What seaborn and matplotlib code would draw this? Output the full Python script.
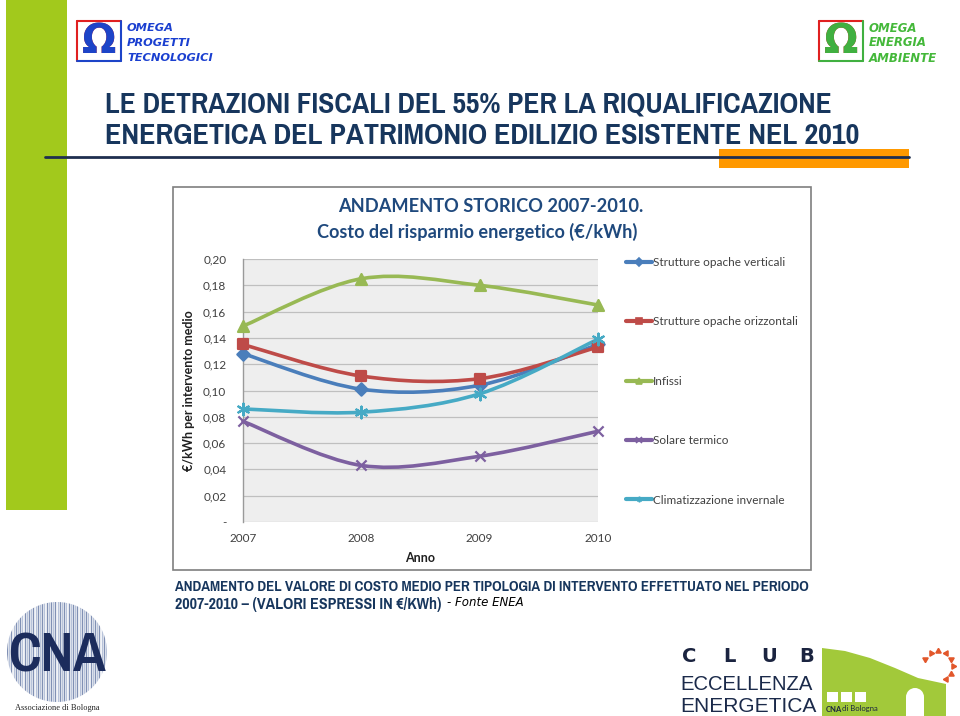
import numpy as np
import matplotlib
matplotlib.use('Agg')
import matplotlib.pyplot as plt
from matplotlib import font_manager as fm
from matplotlib.path import Path
from matplotlib.patches import PathPatch, Rectangle, Circle, Polygon
from matplotlib.lines import Line2D
from matplotlib.transforms import Bbox, TransformedBbox
import seaborn as sns

sns.set_theme(style='white')
plt.rcParams['font.family'] = ['Lato', 'DejaVu Sans']

# data
years = ['2007', '2008', '2009', '2010']
series_names = ['Strutture opache verticali', 'Strutture opache orizzontali', 'Infissi',
                'Solare termico', 'Climatizzazione invernale']
verticali = [0.128, 0.101, 0.104, 0.135]
orizzontali = [0.135, 0.111, 0.109, 0.133]
infissi = [0.149, 0.185, 0.180, 0.165]
solare = [0.0765, 0.043, 0.050, 0.069]
climatizzazione = [0.086, 0.0835, 0.0975, 0.139]
yticks = [0, 0.02, 0.04, 0.06, 0.08, 0.10, 0.12, 0.14, 0.16, 0.18, 0.20]
ytick_labels = ['-', '0,02', '0,04', '0,06', '0,08', '0,10', '0,12', '0,14', '0,16', '0,18', '0,20']

colors = ['#4a7ebb', '#be4b48', '#98b954', '#7d60a0', '#46aac5']
markers = ['D', 's', '^', 'x', (6, 2, 0)]
msizes = [6, 7, 7.5, 7, 8]

NAVY = '#17365d'


def find_narrow(bold=True):
    best = None
    for f in fm.fontManager.ttflist:
        w = f.weight if isinstance(f.weight, int) else fm.weight_dict.get(f.weight, 400)
        if (w >= 600) != bold or 'italic' in str(f.style) or 'oblique' in str(f.style):
            continue
        if 'Narrow' in f.name or 'Condensed' in f.name or 'condensed' in str(f.stretch):
            if best is None or 'Narrow' in f.name:
                best = f.fname
    return best


narrow_file = find_narrow()


def narrow_props():
    if narrow_file:
        return dict(fontproperties=fm.FontProperties(fname=narrow_file))
    return dict(family='DejaVu Sans', fontweight='bold')


def smooth_path(xs, ys):
    pts = np.column_stack([xs, ys]).astype(float)
    n = len(pts)
    verts = [pts[0]]
    codes = [Path.MOVETO]
    for i in range(n - 1):
        p0 = pts[max(i - 1, 0)]
        p1 = pts[i]
        p2 = pts[i + 1]
        p3 = pts[min(i + 2, n - 1)]
        verts += [p1 + (p2 - p0) / 6, p2 - (p3 - p1) / 6, p2]
        codes += [Path.CURVE4] * 3
    return Path(verts, codes)


fig = plt.figure(figsize=(9.6, 7.16), dpi=100)
renderer = fig.canvas.get_renderer()


def fit(t, width):
    bb = t.get_window_extent(renderer)
    t.set_fontsize(t.get_fontsize() * width / bb.width)
    return t


# background layer in pixel coordinates
bg = fig.add_axes([0, 0, 1, 1], zorder=0)
bg.set_xlim(0, 960)
bg.set_ylim(716, 0)
bg.axis('off')

# left green bar
bg.add_patch(Rectangle((6, 0), 61, 510, color='#a2c91c', lw=0))


# omega logos
def omega_logo(x0, y0, c_left, c_right, words, text_color, width):
    bg.plot([x0, x0 + 44], [y0, y0], color=c_left, lw=1.5)
    bg.plot([x0, x0], [y0, y0 + 40], color=c_left, lw=1.5)
    bg.plot([x0, x0 + 44], [y0 + 40, y0 + 40], color=c_right, lw=1.5)
    bg.plot([x0 + 44, x0 + 44], [y0, y0 + 40], color=c_right, lw=1.5)
    for c, cx in zip([c_left, c_right], [x0, x0 + 22]):
        t = bg.text(x0 + 22, y0 + 21, 'Ω', color=c, fontsize=29, fontweight='bold',
                    ha='center', va='center', family='DejaVu Sans')
        t.set_clip_box(TransformedBbox(Bbox.from_extents(cx, y0 + 40, cx + 22, y0), bg.transData))
    texts = []
    for k, w in enumerate(words):
        texts.append(bg.text(x0 + 50, y0 + 7 + 15 * k, w, color=text_color, fontsize=9,
                             fontweight='bold', fontstyle='italic', va='center', ha='left',
                             family='DejaVu Sans'))
    fit(texts[-1], width)
    for t in texts[:-1]:
        t.set_fontsize(texts[-1].get_fontsize())


omega_logo(77, 21, '#e02020', '#1d44c8', ['OMEGA', 'PROGETTI', 'TECNOLOGICI'], '#1a3fd0', 86)
omega_logo(819, 21, '#e02020', '#40b040', ['OMEGA', 'ENERGIA', 'AMBIENTE'], '#44b83a', 68)

# slide title
fit(bg.text(105, 104, 'LE DETRAZIONI FISCALI DEL 55% PER LA RIQUALIFICAZIONE', color=NAVY,
            fontsize=20, ha='left', va='center', **narrow_props()), 725)
fit(bg.text(105, 135, 'ENERGETICA DEL PATRIMONIO EDILIZIO ESISTENTE NEL 2010', color=NAVY,
            fontsize=20, ha='left', va='center', **narrow_props()), 755)
bg.add_patch(Rectangle((719, 149), 190, 19, color='#ff9900', lw=0))
bg.plot([45, 909], [157, 157], color='#1f2f4f', lw=2)

# chart frame
bg.add_patch(Rectangle((173, 187), 638, 383, facecolor='white', edgecolor='#7f7f7f', lw=1.2))
fit(bg.text(338, 207, 'ANDAMENTO STORICO 2007-2010.', color='#1f497d', fontsize=13,
            fontweight='bold', ha='left', va='center'), 305)
fit(bg.text(317, 232, 'Costo del risparmio energetico (€/kWh)', color='#1f497d', fontsize=13,
            fontweight='bold', ha='left', va='center'), 319)

# caption
fit(bg.text(175, 587, 'ANDAMENTO DEL VALORE DI COSTO MEDIO PER TIPOLOGIA DI INTERVENTO EFFETTUATO NEL PERIODO',
            color=NAVY, fontsize=9.5, ha='left', va='center', **narrow_props()), 633)
fit(bg.text(175, 604, '2007-2010 – (VALORI ESPRESSI IN €/KWh)', color=NAVY, fontsize=9.5,
            ha='left', va='center', **narrow_props()), 266)
fit(bg.text(447, 602, '- Fonte ENEA', color='black', fontsize=8.5, fontstyle='italic',
            ha='left', va='center', family='DejaVu Sans'), 76)

# CNA logo
circ = Circle((57, 652), 50, transform=bg.transData, visible=False)
bg.add_patch(circ)
for k, xs in enumerate(np.arange(7, 108, 2.2)):
    ln = bg.plot([xs, xs], [600, 705], color=['#8090b4', '#b8c3da'][k % 2], lw=1.0)[0]
    ln.set_clip_path(circ)
fit(bg.text(8, 656, 'CNA', color='#1c2c5c', fontsize=31, ha='left',
            va='center', **narrow_props()), 98)
bg.text(57, 708, 'Associazione di Bologna', color='#222222', fontsize=6, ha='center',
        va='center', family='Liberation Serif')

# club logo
for letter, lx in zip('CLUB', [689, 729, 769, 807]):
    bg.text(lx, 656, letter, color='#1b2440', fontsize=14, fontweight='black', ha='center',
            va='center', family='DejaVu Sans')
fit(bg.text(680, 684, 'ECCELLENZA', color='#1b2a4a', fontsize=14.5, ha='left', va='center',
            family='Liberation Sans'), 132)
fit(bg.text(680, 707, 'ENERGETICA', color='#1b2a4a', fontsize=14.5, ha='left', va='center',
            family='Liberation Sans'), 136)
bg.add_patch(Polygon([(822, 716), (822, 648), (845, 651), (870, 658), (895, 668), (918, 678),
                      (946, 684), (946, 716)], closed=True, color='#a2c93a', lw=0))
for sx in [827, 841, 855]:
    bg.add_patch(Rectangle((sx, 692), 11, 10, color='white', lw=0))
bg.add_patch(Rectangle((906, 697), 18, 19, color='white', lw=0))
bg.add_patch(Circle((915, 697), 9, color='white', lw=0))
bg.text(826, 709, 'CNA', color='#1b2440', fontsize=5.5, fontweight='bold', va='center')
bg.text(842, 709, 'di Bologna', color='#1b2440', fontsize=5.5, va='center')
for ang in np.linspace(150, -60, 8):
    a = np.deg2rad(ang)
    bg.plot(938 + 15 * np.cos(a), 666 - 15 * np.sin(a), marker=(3, 0, ang - 90), ms=4.5,
            color='#e2572b', lw=0)

# chart
ax = fig.add_axes([243 / 960, 1 - 522 / 716, 355 / 960, 263 / 716], zorder=2)
ax.set_facecolor('#eeeeee')
xpos = np.arange(len(years))
all_series = [verticali, orizzontali, infissi, solare, climatizzazione]
for vals, c, m, ms, name in zip(all_series, colors, markers, msizes, series_names):
    ax.add_patch(PathPatch(smooth_path(xpos, vals), facecolor='none', edgecolor=c, lw=2.6,
                           capstyle='round', clip_on=False, zorder=3))
    sns.scatterplot(x=xpos, y=vals, ax=ax, marker=m, color=c, s=ms ** 2 * 1.1,
                    edgecolor=c, linewidth=1.6, clip_on=False, zorder=4, legend=False)

ax.set_xlim(0, 3)
ax.set_ylim(0, 0.2)
ax.set_yticks(yticks)
ax.set_yticklabels(ytick_labels)
ax.set_xticks(xpos)
ax.set_xticklabels(years)
ax.tick_params(axis='both', length=0, labelsize=8.5, labelcolor='#404040')
ax.tick_params(axis='y', pad=12)
ax.tick_params(axis='x', pad=8)
ax.grid(axis='y', color='#bfbfbf', lw=0.9)
ax.set_axisbelow(True)
for s in ['top', 'right', 'bottom']:
    ax.spines[s].set_visible(False)
ax.spines['left'].set_color('#9a9a9a')
ax.spines['left'].set_linewidth(1)
ax.set_xlabel('Anno', fontsize=9, fontweight='bold', color='#202020')
ax.xaxis.set_label_coords(0.5, -0.115)
ax.set_ylabel('€/kWh per intervento medio', fontsize=9, fontweight='bold', color='#202020')
ax.yaxis.set_label_coords(-0.135, 0.5)

handles = [Line2D([], [], color=c, lw=3, marker=m, ms=4, markeredgewidth=1.2)
           for c, m in zip(colors, markers)]
fig.legend(handles, series_names, loc='upper left', bbox_to_anchor=(626 / 960, 1 - 257 / 716),
           frameon=False, fontsize=8.5, labelcolor='#404040', handlelength=2.2,
           handletextpad=0.1, labelspacing=4.1, borderpad=0, borderaxespad=0)

fig.savefig('out.png', dpi=100)
